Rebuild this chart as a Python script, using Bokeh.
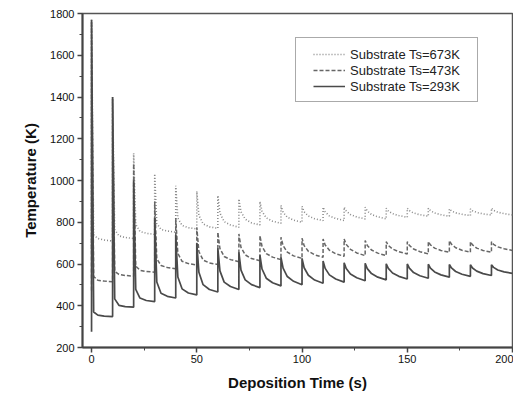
from bokeh.plotting import figure
from bokeh.models import Range1d, FixedTicker, Legend, LegendItem
from bokeh.embed import file_html
from bokeh.resources import INLINE

# ---- data ----
pulse_times = [0, 10, 20, 30, 40, 50, 60, 70, 80, 90, 100, 110, 120, 130, 140, 150, 160, 170, 180, 190]
offsets = [0, 1, 3, 6, 10]  # s after each pulse at which values were read

start_673 = 673
peak_673 = [1770, 1400, 1130, 1032, 975, 949, 928, 912, 899, 880, 876, 872, 872, 872, 867, 867, 867, 864, 864, 867]
v1_673 = [740, 765, 790, 794, 820, 833, 844, 850, 852, 848, 850, 850, 854, 854, 854, 856, 856, 854, 855, 857]
v3_673 = [722, 735, 756, 766, 785, 792, 803, 815, 821, 824, 830, 830, 837, 837, 841, 844, 844, 845, 847, 848]
v6_673 = [715, 727, 747, 758, 774, 778, 787, 797, 805, 810, 817, 818, 825, 826, 832, 836, 836, 838, 840, 841]
end_673 = [710, 722, 742, 752, 768, 771, 776, 787, 795, 800, 808, 808, 816, 816, 824, 829, 829, 832, 835, 835]

start_473 = 473
peak_473 = [1760, 1390, 1080, 900, 820, 775, 752, 744, 736, 728, 723, 720, 720, 712, 707, 707, 707, 712, 707, 707]
v1_473 = [540, 565, 590, 625, 651, 660, 674, 680, 684, 688, 688, 691, 694, 689, 689, 689, 692, 695, 692, 694]
v3_473 = [522, 550, 570, 593, 613, 619, 636, 644, 650, 657, 661, 666, 670, 667, 672, 672, 676, 678, 676, 682]
v6_473 = [518, 545, 564, 583, 602, 605, 621, 626, 633, 639, 644, 649, 653, 652, 659, 659, 665, 666, 665, 673]
end_473 = [515, 542, 561, 577, 595, 598, 611, 616, 621, 627, 632, 637, 640, 640, 648, 648, 656, 656, 656, 665]

start_293 = 275
peak_293 = [1770, 1400, 1000, 820, 740, 700, 675, 656, 642, 632, 627, 614, 606, 603, 601, 600, 599, 598, 597, 596]
v1_293 = [370, 433, 478, 514, 538, 560, 567, 571, 576, 580, 582, 579, 578, 578, 579, 580, 580, 581, 581, 584]
v3_293 = [355, 402, 437, 460, 481, 501, 513, 524, 532, 540, 546, 548, 552, 554, 557, 559, 562, 564, 566, 571]
v6_293 = [350, 396, 425, 445, 461, 478, 492, 501, 510, 517, 523, 528, 534, 537, 541, 544, 548, 551, 554, 562]
end_293 = [348, 393, 420, 437, 452, 466, 478, 487, 495, 501, 508, 513, 520, 524, 528, 532, 537, 541, 545, 555]

x_ticks = [0, 50, 100, 150, 200]
x_minor = [25, 75, 125, 175]
y_ticks = [200, 400, 600, 800, 1000, 1200, 1400, 1600, 1800]
y_minor = [300, 500, 700, 900, 1100, 1300, 1500, 1700]

labels = ["Substrate Ts=673K", "Substrate Ts=473K", "Substrate Ts=293K"]


def build(start, peak, v1, v3, v6, end):
    xs, ys = [0], [start]
    for t0, pk, a, b, c, e in zip(pulse_times, peak, v1, v3, v6, end):
        for off, val in zip(offsets, [pk, a, b, c, e]):
            xs.append(t0 + off)
            ys.append(val)
    return xs, ys


FONT = "Liberation Sans"

p = figure(width=513, height=395, x_range=Range1d(-4.3, 200), y_range=Range1d(200, 1800),
           output_backend="svg", toolbar_location=None,
           min_border_left=82, min_border_right=1, min_border_top=13, min_border_bottom=48)
p.background_fill_color = "white"
p.border_fill_color = "white"
p.xgrid.visible = False
p.ygrid.visible = False
p.outline_line_color = "#555555"
p.outline_line_width = 1.5

x673, y673 = build(start_673, peak_673, v1_673, v3_673, v6_673, end_673)
x473, y473 = build(start_473, peak_473, v1_473, v3_473, v6_473, end_473)
x293, y293 = build(start_293, peak_293, v1_293, v3_293, v6_293, end_293)

r673 = p.line(x673, y673, line_color="#8a8a8a", line_width=1.6, line_dash="1 2")
r473 = p.line(x473, y473, line_color="#666666", line_width=1.5, line_dash="4 2")
r293 = p.line(x293, y293, line_color="#4a4a4a", line_width=1.7)

p.xaxis.ticker = FixedTicker(ticks=x_ticks, minor_ticks=x_minor)
p.yaxis.ticker = FixedTicker(ticks=y_ticks, minor_ticks=y_minor)
for ax in (p.xaxis, p.yaxis):
    ax.axis_line_color = "#444444"
    ax.axis_line_width = 2
    ax.major_tick_line_color = "#444444"
    ax.minor_tick_line_color = "#444444"
    ax.major_tick_line_width = 1.5
    ax.major_tick_out = 5
    ax.major_tick_in = 0
    ax.minor_tick_out = 3
    ax.minor_tick_in = 0
    ax.major_label_text_font = FONT
    ax.major_label_text_font_size = "11px"
    ax.major_label_text_color = "#111111"
    ax.axis_label_text_font = FONT
    ax.axis_label_text_font_size = "15px"
    ax.axis_label_text_font_style = "bold"
    ax.axis_label_text_color = "#111111"

p.xaxis.axis_label = "Deposition Time (s)"
p.yaxis.axis_label = "Temperature (K)"
p.xaxis.major_label_standoff = 2
p.xaxis.axis_label_standoff = 8
p.yaxis.major_label_standoff = 3
p.yaxis.axis_label_standoff = 8

# legend frame
dummy = p.line([], [], line_alpha=0)
leg_box = Legend(items=[LegendItem(label=" ", renderers=[dummy])], location=(213, 245),
                 padding=0, margin=0, glyph_width=180, glyph_height=63, label_height=63,
                 label_width=1, label_standoff=0, spacing=0,
                 border_line_color="#555555", border_line_width=1.5,
                 background_fill_color="white", background_fill_alpha=1,
                 label_text_font_size="13px")
p.add_layout(leg_box)

leg = Legend(items=[LegendItem(label=labels[0], renderers=[r673]),
                    LegendItem(label=labels[1], renderers=[r473]),
                    LegendItem(label=labels[2], renderers=[r293])],
             location=(231, 253), padding=0, margin=0, spacing=0,
             glyph_width=32, glyph_height=16, label_height=16, label_standoff=5,
             border_line_alpha=0, background_fill_alpha=0,
             label_text_font=FONT, label_text_font_size="13px", label_text_color="#222222")
p.add_layout(leg)

open("out.html", "w").write(file_html(p, INLINE))
